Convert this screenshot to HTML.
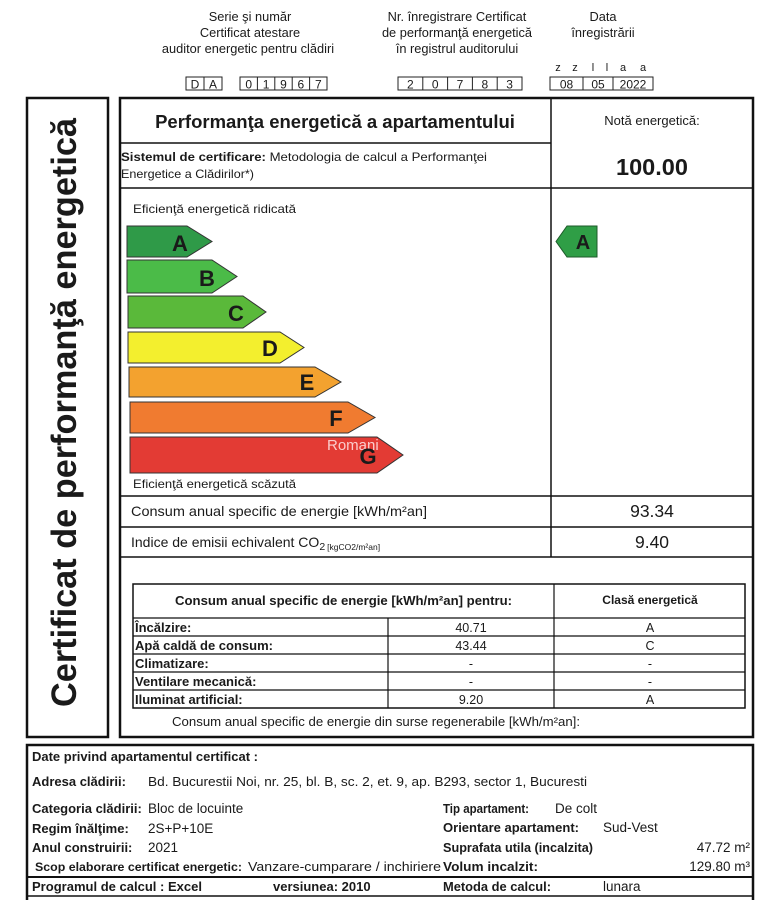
<!DOCTYPE html>
<html><head><meta charset="utf-8"><style>
html,body{margin:0;padding:0;background:#fff;}
svg{display:block;}
text{font-family:"Liberation Sans",Arial,sans-serif;fill:#1a1a1a;}
.b{font-weight:bold;}
</style></head><body>
<svg width="780" height="900" viewBox="0 0 780 900" xmlns="http://www.w3.org/2000/svg">
<rect width="780" height="900" fill="#fff"/>
<!-- header texts -->
<g font-size="12.8" text-anchor="middle">
<text x="250" y="21">Serie şi număr</text>
<text x="250" y="37">Certificat atestare</text>
<text x="248" y="53">auditor energetic pentru clădiri</text>
<text x="457" y="21">Nr. înregistrare Certificat</text>
<text x="457" y="37">de performanţă energetică</text>
<text x="457" y="53">în registrul auditorului</text>
<text x="603" y="21">Data</text>
<text x="603" y="37">înregistrării</text>
</g>
<g font-size="11" text-anchor="middle">
<text x="558" y="71">z</text><text x="575" y="71">z</text><text x="593" y="71">l</text><text x="607" y="71">l</text><text x="623" y="71">a</text><text x="643" y="71">a</text>
</g>
<g fill="none" stroke="#222" stroke-width="1">
<rect x="186" y="77" width="36" height="13"/><line x1="204" y1="77" x2="204" y2="90"/>
<rect x="240" y="77" width="87" height="13"/>
<line x1="257.4" y1="77" x2="257.4" y2="90"/><line x1="274.8" y1="77" x2="274.8" y2="90"/><line x1="292.2" y1="77" x2="292.2" y2="90"/><line x1="309.6" y1="77" x2="309.6" y2="90"/>
<rect x="398" y="77" width="124" height="13"/>
<line x1="422.8" y1="77" x2="422.8" y2="90"/><line x1="447.6" y1="77" x2="447.6" y2="90"/><line x1="472.4" y1="77" x2="472.4" y2="90"/><line x1="497.2" y1="77" x2="497.2" y2="90"/>
<rect x="550" y="77" width="103" height="13"/>
<line x1="583" y1="77" x2="583" y2="90"/><line x1="613" y1="77" x2="613" y2="90"/>
</g>
<g font-size="12" text-anchor="middle">
<text x="195" y="88.5">D</text><text x="213" y="88.5">A</text>
<text x="248.7" y="88.5">0</text><text x="266.1" y="88.5">1</text><text x="283.5" y="88.5">9</text><text x="300.9" y="88.5">6</text><text x="318.3" y="88.5">7</text>
<text x="410.4" y="88.5">2</text><text x="435.2" y="88.5">0</text><text x="460" y="88.5">7</text><text x="484.8" y="88.5">8</text><text x="509.6" y="88.5">3</text>
<text x="566.5" y="88.5">08</text><text x="598" y="88.5">05</text><text x="633" y="88.5">2022</text>
</g>

<!-- left vertical box -->
<rect x="27" y="98" width="81" height="639" fill="none" stroke="#111" stroke-width="2.5"/>
<text class="b" font-size="35" text-anchor="middle" transform="translate(76,412.5) rotate(-90)" textLength="589" lengthAdjust="spacingAndGlyphs">Certificat de performanţă energetică</text>

<!-- main box -->
<rect x="120" y="98" width="633" height="639" fill="none" stroke="#111" stroke-width="2.5"/>
<g stroke="#111" stroke-width="1.5">
<line x1="551" y1="98" x2="551" y2="557"/>
<line x1="120" y1="143" x2="551" y2="143"/>
<line x1="120" y1="188" x2="753" y2="188"/>
<line x1="120" y1="496" x2="753" y2="496"/>
<line x1="120" y1="527" x2="753" y2="527"/>
<line x1="120" y1="557" x2="753" y2="557"/>
</g>
<text class="b" font-size="18.5" x="335" y="128" text-anchor="middle">Performanţa energetică a apartamentului</text>
<text font-size="13" x="652" y="125" text-anchor="middle">Notă energetică:</text>
<text class="b" font-size="23.5" x="652" y="175" text-anchor="middle">100.00</text>
<text font-size="12" x="121" y="161" textLength="366" lengthAdjust="spacingAndGlyphs"><tspan font-weight="bold">Sistemul de certificare:</tspan> Metodologia de calcul a Performanţei</text>
<text font-size="12" x="121" y="178" textLength="133" lengthAdjust="spacingAndGlyphs">Energetice a Clădirilor*)</text>
<text font-size="12" x="133" y="213" textLength="163" lengthAdjust="spacingAndGlyphs">Eficienţă energetică ridicată</text>

<defs><clipPath id="gclip"><polygon points="130,437 377,437 403,455 377,473 130,473"/></clipPath></defs>
<g stroke="#333" stroke-width="1">
<polygon points="127,226 187,226 212,241.5 187,257 127,257" fill="#2f9a48"/>
<polygon points="127,260 212,260 237,276.5 212,293 127,293" fill="#4bbb48"/>
<polygon points="128,296 243,296 266,312 243,328 128,328" fill="#5ab93a"/>
<polygon points="128,332 280,332 304,347.5 280,363 128,363" fill="#f3ef2e"/>
<polygon points="129,367 315,367 341,382 315,397 129,397" fill="#f3a22f"/>
<polygon points="130,402 348,402 375,417.5 348,433 130,433" fill="#f07b30"/>
<polygon points="130,437 377,437 403,455 377,473 130,473" fill="#e33b34"/>
</g>
<text font-size="15" x="327" y="450" clip-path="url(#gclip)" style="fill:rgba(255,230,230,0.85)">Romani</text>
<g class="b" font-size="22" text-anchor="middle" font-weight="bold">
<text x="180" y="251">A</text>
<text x="207" y="286">B</text>
<text x="236" y="321">C</text>
<text x="270" y="356">D</text>
<text x="307" y="390">E</text>
<text x="336" y="426">F</text>
<text x="368" y="464">G</text>
</g>
<polygon points="556,241.5 567,226 597,226 597,257 567,257" fill="#2f9e46" stroke="#1d5a2a" stroke-width="1"/>
<text class="b" font-size="20" x="583" y="249" text-anchor="middle">A</text>

<text font-size="12" x="133" y="488" textLength="163" lengthAdjust="spacingAndGlyphs">Eficienţă energetică scăzută</text>
<text font-size="14" x="131" y="516" textLength="296" lengthAdjust="spacingAndGlyphs">Consum anual specific de energie [kWh/m²an]</text>
<text font-size="17.5" x="652" y="517" text-anchor="middle">93.34</text>
<text font-size="14" x="131" y="547">Indice de emisii echivalent CO<tspan font-size="10.5" dy="3">2</tspan><tspan font-size="8.5" dx="2">[kgCO2/m²an]</tspan></text>
<text font-size="17.5" x="652" y="548" text-anchor="middle">9.40</text>

<!-- inner table -->
<rect x="133" y="584" width="612" height="124" fill="none" stroke="#111" stroke-width="1.5"/>
<g stroke="#111" stroke-width="1.2">
<line x1="133" y1="618" x2="745" y2="618"/>
<line x1="133" y1="636" x2="745" y2="636"/>
<line x1="133" y1="654" x2="745" y2="654"/>
<line x1="133" y1="672" x2="745" y2="672"/>
<line x1="133" y1="690" x2="745" y2="690"/>
<line x1="554" y1="584" x2="554" y2="708"/>
<line x1="388" y1="618" x2="388" y2="708"/>
</g>
<text class="b" font-size="13" x="175" y="605" textLength="337" lengthAdjust="spacingAndGlyphs">Consum anual specific de energie [kWh/m²an] pentru:</text>
<text class="b" font-size="12" x="650" y="604" text-anchor="middle">Clasă energetică</text>
<g class="b" font-size="13" font-weight="bold">
<text x="135" y="632">Încălzire:</text>
<text x="135" y="650">Apă caldă de consum:</text>
<text x="135" y="668">Climatizare:</text>
<text x="135" y="686">Ventilare mecanică:</text>
<text x="135" y="704">Iluminat artificial:</text>
</g>
<g font-size="12.5" text-anchor="middle">
<text x="471" y="632">40.71</text><text x="650" y="632">A</text>
<text x="471" y="650">43.44</text><text x="650" y="650">C</text>
<text x="471" y="668">-</text><text x="650" y="668">-</text>
<text x="471" y="686">-</text><text x="650" y="686">-</text>
<text x="471" y="704">9.20</text><text x="650" y="704">A</text>
</g>
<text font-size="13" x="172" y="726" textLength="408" lengthAdjust="spacingAndGlyphs">Consum anual specific de energie din surse regenerabile [kWh/m²an]:</text>

<!-- bottom section -->
<rect x="27" y="745" width="726" height="170" fill="none" stroke="#111" stroke-width="2.5"/>
<line x1="27" y1="877" x2="753" y2="877" stroke="#111" stroke-width="2"/>
<line x1="27" y1="896" x2="753" y2="896" stroke="#111" stroke-width="1.5"/>
<g font-size="13">
<text class="b" x="32" y="761" textLength="226" lengthAdjust="spacingAndGlyphs">Date privind apartamentul certificat :</text>
<text class="b" x="32" y="786">Adresa clădirii:</text>
<text x="148" y="786" textLength="439" lengthAdjust="spacingAndGlyphs">Bd. Bucurestii Noi, nr. 25, bl. B, sc. 2, et. 9, ap. B293, sector 1,  Bucuresti</text>
<text class="b" x="32" y="813">Categoria clădirii:</text>
<text x="148" y="813" font-size="13.5">Bloc de locuinte</text>
<text class="b" x="32" y="833">Regim înălţime:</text>
<text x="148" y="833" font-size="13.5">2S+P+10E</text>
<text class="b" x="32" y="852">Anul construirii:</text>
<text x="148" y="852" font-size="13.5">2021</text>
<text class="b" x="35" y="871" font-size="12" textLength="207" lengthAdjust="spacingAndGlyphs">Scop elaborare certificat energetic:</text>
<text x="248" y="871" textLength="193" lengthAdjust="spacingAndGlyphs">Vanzare-cumparare / inchiriere</text>
<text class="b" x="443" y="813" font-size="12.5" textLength="86" lengthAdjust="spacingAndGlyphs">Tip apartament:</text>
<text x="555" y="813" font-size="13.5">De colt</text>
<text class="b" x="443" y="832" font-size="12.5" textLength="136" lengthAdjust="spacingAndGlyphs">Orientare apartament:</text>
<text x="603" y="832" font-size="13.5">Sud-Vest</text>
<text class="b" x="443" y="852" textLength="150" lengthAdjust="spacingAndGlyphs">Suprafata utila (incalzita)</text>
<text x="750" y="852" text-anchor="end" font-size="13.5">47.72 m²</text>
<text class="b" x="443" y="871" textLength="95" lengthAdjust="spacingAndGlyphs">Volum incalzit:</text>
<text x="750" y="871" text-anchor="end" font-size="13.5">129.80 m³</text>
<text class="b" x="32" y="891" textLength="170" lengthAdjust="spacingAndGlyphs">Programul de calcul : Excel</text>
<text class="b" x="273" y="891">versiunea: 2010</text>
<text class="b" x="443" y="891" textLength="108" lengthAdjust="spacingAndGlyphs">Metoda de calcul:</text>
<text x="603" y="891" font-size="13.5">lunara</text>
</g>
</svg>
</body></html>
